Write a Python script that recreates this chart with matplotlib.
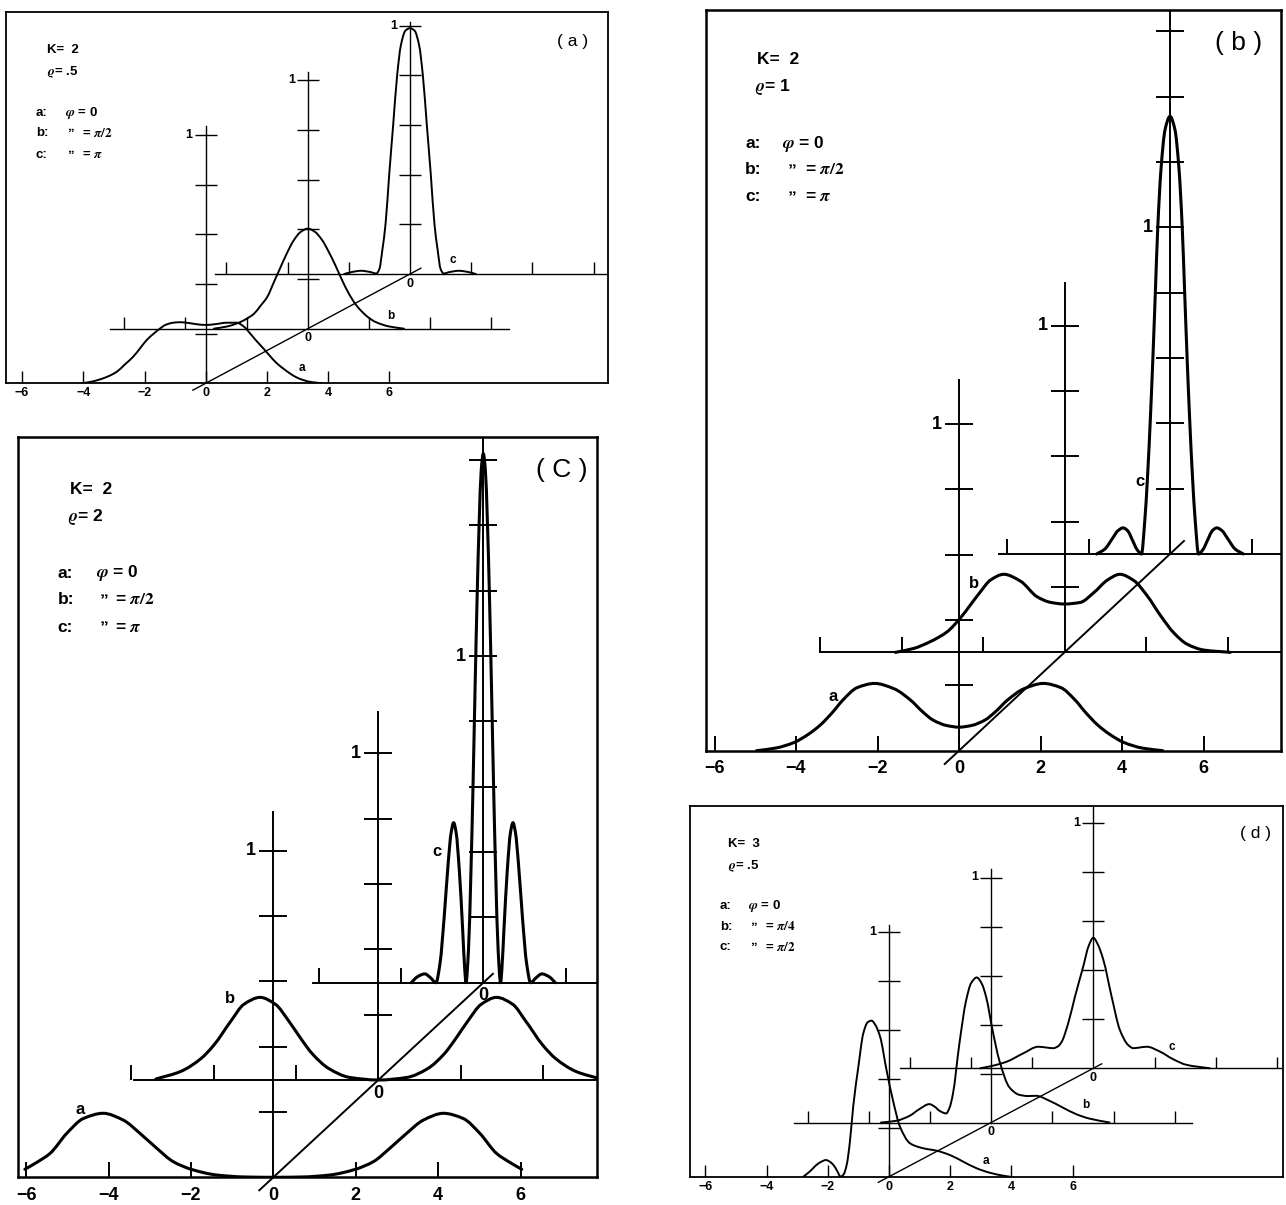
import numpy as np
import matplotlib
matplotlib.use("Agg")
import matplotlib.pyplot as plt
from matplotlib.path import Path
from matplotlib.patches import PathPatch
from matplotlib.transforms import offset_copy

plt.rcParams['font.family'] = ['Liberation Sans', 'DejaVu Sans']
plt.rcParams['font.weight'] = 'bold'
plt.rcParams['mathtext.fontset'] = 'stix'

W, H = 1286, 1205

# ---- values (x in units of the axis, y = intensity) ----
# panel (a): K=2, rho=.5
pa_ax = [-4.05, -3.75, -3.45, -3.15, -2.9, -2.65, -2.37, -2.15, -1.93, -1.7, -1.5, -1.3, -1.06, -0.85,
         -0.62, -0.3, 0.0, 0.3, 0.69, 1.01, 1.25, 1.45, 1.65, 1.88, 2.1, 2.32, 2.55, 2.75, 2.95, 3.19,
         3.45, 3.84]
pa_ay = [0.0, 0.006, 0.016, 0.03, 0.047, 0.075, 0.107, 0.14, 0.174, 0.2, 0.22, 0.236, 0.244, 0.246,
         0.244, 0.238, 0.235, 0.238, 0.244, 0.244, 0.228, 0.201, 0.172, 0.141, 0.11, 0.081, 0.058, 0.04,
         0.025, 0.013, 0.005, 0.0]
pa_bx = [-3.07, -2.63, -2.2, -2.0, -1.76, -1.56, -1.33, -1.1, -0.89, -0.68, -0.46, -0.23, 0.0, 0.23,
         0.47, 0.68, 0.9, 1.12, 1.34, 1.56, 1.78, 2.0, 2.21, 2.65, 3.14]
pa_by = [0.0, 0.009, 0.027, 0.04, 0.06, 0.09, 0.127, 0.19, 0.248, 0.305, 0.356, 0.39, 0.403, 0.39,
         0.356, 0.31, 0.255, 0.195, 0.141, 0.098, 0.067, 0.043, 0.027, 0.009, 0.0]
pa_cx = [-2.15, -1.9, -1.6, -1.3, -1.1, -1.0, -0.9, -0.8, -0.68, -0.55, -0.42, -0.3, -0.15, 0.0,
         0.15, 0.3, 0.42, 0.55, 0.68, 0.8, 0.9, 1.0, 1.1, 1.3, 1.6, 1.9, 2.15]
pa_cy = [0.0, 0.008, 0.013, 0.008, 0.002, 0.02, 0.1, 0.2, 0.4, 0.6, 0.8, 0.92, 0.98, 0.99,
         0.98, 0.92, 0.8, 0.6, 0.4, 0.2, 0.1, 0.02, 0.002, 0.008, 0.013, 0.008, 0.0]

# panel (b): K=2, rho=1
pb_ax = [-4.97, -4.5, -4.05, -3.7, -3.4, -3.1, -2.85, -2.5, -2.07, -1.6, -1.19, -0.9, -0.64, -0.3,
         0.0, 0.3, 0.64, 0.9, 1.19, 1.6, 2.07, 2.5, 2.85, 3.1, 3.4, 3.7, 4.05, 4.5, 5.0]
pb_ay = [0.0, 0.008, 0.025, 0.05, 0.079, 0.118, 0.155, 0.193, 0.206, 0.19, 0.155, 0.12, 0.094, 0.077,
         0.072, 0.077, 0.094, 0.12, 0.155, 0.19, 0.206, 0.193, 0.155, 0.118, 0.079, 0.05, 0.025, 0.008, 0.0]
pb_bx = [-4.15, -3.7, -3.29, -2.88, -2.55, -2.31, -2.06, -1.82, -1.49, -1.08, -0.67, -0.34, 0.0,
         0.39, 0.72, 1.05, 1.36, 1.7, 2.03, 2.36, 2.68, 3.01, 3.42, 4.07]
pb_by = [0.0, 0.012, 0.033, 0.063, 0.106, 0.145, 0.186, 0.221, 0.239, 0.218, 0.17, 0.153, 0.148,
         0.153, 0.183, 0.221, 0.239, 0.22, 0.173, 0.112, 0.06, 0.025, 0.007, 0.0]
pb_cx = [-1.8, -1.6, -1.4, -1.28, -1.15, -1.03, -0.95, -0.8, -0.7, -0.62, -0.55, -0.48, -0.42, -0.36,
         -0.3, -0.22, -0.12, 0.0, 0.12, 0.22, 0.3, 0.36, 0.42, 0.48, 0.55, 0.62, 0.7, 0.8, 0.95, 1.03,
         1.15, 1.28, 1.4, 1.6, 1.8]
pb_cy = [0.0, 0.015, 0.05, 0.071, 0.08, 0.07, 0.05, 0.012, 0.0, 0.1, 0.24, 0.42, 0.6, 0.8,
         1.0, 1.18, 1.3, 1.34, 1.3, 1.18, 1.0, 0.8, 0.6, 0.42, 0.24, 0.1, 0.0, 0.012, 0.05, 0.07,
         0.08, 0.071, 0.05, 0.015, 0.0]

# panel (c): K=2, rho=2
pc_ax = [-6.03, -5.75, -5.42, -5.01, -4.61, -4.13, -3.64, -3.24, -2.83, -2.43, -1.98, -1.37, -0.7,
         0.0, 0.7, 1.37, 1.98, 2.43, 2.83, 3.24, 3.64, 4.13, 4.61, 5.01, 5.42, 5.75, 6.03]
pc_ay = [0.0245, 0.045, 0.073, 0.135, 0.18, 0.196, 0.175, 0.135, 0.089, 0.048, 0.024, 0.007, 0.001,
         0.0, 0.001, 0.007, 0.024, 0.048, 0.089, 0.135, 0.175, 0.196, 0.18, 0.135, 0.073, 0.045, 0.0245]
pc_bx = [-5.4, -4.8, -4.31, -3.99, -3.58, -3.26, -2.87, -2.5, -2.17, -1.87, -1.6, -1.2, -0.7, 0.0,
         0.7, 1.2, 1.6, 1.87, 2.17, 2.5, 2.87, 3.26, 3.58, 3.99, 4.31, 4.8, 5.4]
pc_by = [0.003, 0.026, 0.065, 0.107, 0.18, 0.232, 0.253, 0.232, 0.18, 0.125, 0.08, 0.035, 0.008, 0.0,
         0.008, 0.035, 0.08, 0.125, 0.18, 0.232, 0.253, 0.232, 0.18, 0.107, 0.065, 0.026, 0.003]
pc_cx = [-1.75, -1.6, -1.42, -1.28, -1.15, -1.05, -0.95, -0.85, -0.78, -0.72, -0.66, -0.58, -0.5,
         -0.45, -0.42, -0.36, -0.3, -0.25, -0.2, -0.15, -0.1, -0.05, 0.0, 0.05, 0.1, 0.15, 0.2, 0.25,
         0.3, 0.36, 0.42, 0.45, 0.5, 0.58, 0.66, 0.72, 0.78, 0.85, 0.95, 1.05, 1.15, 1.28, 1.42, 1.6, 1.75]
pc_cy = [0.0, 0.018, 0.027, 0.015, 0.0, 0.06, 0.2, 0.37, 0.46, 0.49, 0.46, 0.34, 0.16,
         0.04, 0.0, 0.1, 0.34, 0.6, 0.9, 1.18, 1.41, 1.57, 1.62, 1.57, 1.41, 1.18, 0.9, 0.6,
         0.34, 0.1, 0.0, 0.04, 0.16, 0.34, 0.46, 0.49, 0.46, 0.37, 0.2, 0.06, 0.0, 0.015, 0.027, 0.018, 0.0]

# panel (d): K=3, rho=.5
pd_ax = [-2.8, -2.6, -2.35, -2.2, -2.06, -1.92, -1.8, -1.7, -1.58, -1.48, -1.38, -1.28, -1.17, -1.0,
         -0.84, -0.7, -0.57, -0.45, -0.29, -0.08, 0.14, 0.36, 0.69, 1.12, 1.56, 2.0, 2.43, 2.87, 3.3,
         3.74, 3.95]
pd_ay = [0.0, 0.02, 0.05, 0.062, 0.068, 0.06, 0.045, 0.025, 0.0, 0.01, 0.05, 0.14, 0.286, 0.45,
         0.585, 0.63, 0.637, 0.62, 0.571, 0.435, 0.306, 0.204, 0.136, 0.116, 0.106, 0.088, 0.061, 0.034,
         0.016, 0.004, 0.0]
pd_bx = [-3.6, -3.1, -2.67, -2.34, -2.02, -1.85, -1.69, -1.47, -1.36, -1.25, -1.04, -0.82, -0.65,
         -0.47, -0.3, -0.16, 0.05, 0.27, 0.6, 0.92, 1.2, 1.47, 1.9, 2.34, 2.78, 3.21, 3.87]
pd_by = [0.0, 0.007, 0.027, 0.055, 0.075, 0.065, 0.048, 0.037, 0.06, 0.116, 0.32, 0.497, 0.57,
         0.592, 0.565, 0.51, 0.374, 0.252, 0.143, 0.113, 0.108, 0.109, 0.089, 0.061, 0.034, 0.016, 0.0]
pd_cx = [-3.7, -3.3, -2.83, -2.29, -1.8, -1.55, -1.31, -1.15, -1.03, -0.82, -0.6, -0.33, -0.15, 0.0,
         0.15, 0.33, 0.6, 0.87, 1.14, 1.31, 1.52, 1.75, 2.18, 2.61, 3.05, 3.81]
pd_cy = [0.0, 0.01, 0.027, 0.061, 0.088, 0.085, 0.082, 0.09, 0.109, 0.184, 0.292, 0.415, 0.5, 0.533,
         0.505, 0.442, 0.292, 0.156, 0.095, 0.082, 0.085, 0.088, 0.068, 0.037, 0.014, 0.0]

front_ticks = [-6, -4, -2, 0, 2, 4, 6]

# ---- layout of the four boxes (pixels) ----
small = dict(tick_len=11.7, tick_half=11, lw_curve=1.4, lw_axis=1.0, frame_lw=1.3, fs=9, pad=3,
             one_gap=2, zero_off=9.5, fs_leg=9.5, fs_lab=12.5, fs_cur=8.5)
big = dict(tick_len=15, tick_half=14, lw_curve=2.2, lw_axis=1.4, frame_lw=1.8, fs=13, pad=7,
           one_gap=3, zero_off=13, fs_leg=12.5, fs_lab=19, fs_cur=12)

PANELS = {
    'a': dict(small, frame=(6, 11.7, 608, 383.3), x0=205.7, sx=30.6, sy=248.3, dx=102.15, dy=54.65,
              axis_top=[1.035, 1.033, 1.016], vtick_max=[1.0, 1.0, 1.0],
              base_start=[None, -6.47, -6.37], base_end=[None, 6.56, None],
              base_ticks=[None, [-6, -4, -2, 2, 4, 6], [-6, -4, -2, 2, 4, 6]],
              diag=(-0.42, 7.03), zeros=True,
              curves=[(pa_ax, pa_ay), (pa_bx, pa_by), (pa_cx, pa_cy)],
              labels=[(301.7, 368.3), (390.7, 316), (453.3, 260)],
              tag='( a )', tag_xy=(573, 41.7), K='2', rho='.5', phis=[r'$\pi/2$', r'$\pi$'],
              k_xy=(47, 50), r_xy=(47, 71.7), lx=36, ly=[113.3, 133.3, 155], symx=65, dittox=67, eqx=81.7),
    'b': dict(big, frame=(705.6, 10, 1281, 750.7), x0=959, sx=40.75, sy=326.6, dx=105.5, dy=98.35,
              axis_top=[1.135, 1.13, None], vtick_max=[1.0, 1.0, 1.6],
              base_start=[None, -6.0, -4.2], base_end=[None, None, None],
              base_ticks=[None, [-6, -4, -2, 2, 4], [-4, -2, 2]],
              diag=(-0.35, 5.52), zeros=False,
              curves=[(pb_ax, pb_ay), (pb_bx, pb_by), (pb_cx, pb_cy)],
              labels=[(833.5, 696.7), (974.3, 583.3), (1140, 481.7)],
              tag='( b )', tag_xy=(1238.5, 43.3), K='2', rho='1', phis=[r'$\pi/2$', r'$\pi$'],
              k_xy=(757, 59.3), r_xy=(755, 87.3), lx=745, ly=[144, 170, 196.7], symx=782.4, dittox=788, eqx=805),
    'c': dict(big, frame=(18.3, 437.3, 596.5, 1177.3), x0=273.3, sx=41.2, sy=326.6, dx=105, dy=97.3,
              axis_top=[1.118, 1.126, None], vtick_max=[1.0, 1.0, 1.6],
              base_start=[None, -5.94, -4.14], base_end=[None, None, None],
              base_ticks=[None, [-6, -4, -2, 2, 4], [-4, -2, 2]],
              diag=(-0.34, 5.33), zeros=True,
              curves=[(pc_ax, pc_ay), (pc_bx, pc_by), (pc_cx, pc_cy)],
              labels=[(80, 1109.3), (230, 998.3), (436.7, 851.7)],
              tag='( C )', tag_xy=(561.5, 470), K='2', rho='2', phis=[r'$\pi/2$', r'$\pi$'],
              k_xy=(70.3, 489.3), r_xy=(68.4, 517.3), lx=57.8, ly=[573.3, 600, 627.3], symx=95.7, dittox=99.6, eqx=115.2),
    'd': dict(small, frame=(690, 806, 1283, 1176.7), x0=889, sx=30.6, sy=245, dx=102.15, dy=54.2,
              axis_top=[1.027, 1.034, None], vtick_max=[1.0, 1.0, 1.0],
              base_start=[None, -6.45, -6.33], base_end=[None, 6.55, None],
              base_ticks=[None, [-6, -4, -2, 2, 4, 6], [-6, -4, -2, 2, 4, 6]],
              diag=(-0.35, 6.95), zeros=True,
              curves=[(pd_ax, pd_ay), (pd_bx, pd_by), (pd_cx, pd_cy)],
              labels=[(986, 1160.7), (1086, 1105), (1171.7, 1046.7)],
              tag='( d )', tag_xy=(1256, 833.3), K='3', rho='.5', phis=[r'$\pi/4$', r'$\pi/2$'],
              k_xy=(728.3, 844.3), r_xy=(728.3, 866), lx=720, ly=[906, 926.7, 947.3], symx=748.3, dittox=750, eqx=765),
}

fig = plt.figure(figsize=(W / 100, H / 100), dpi=100)


def put(x, y, s, **kw):
    return fig.text(x / W, 1 - y / H, s, **kw)


def smooth_path(x, y):
    # cubic Bezier through the read points, monotone (pchip-like) slopes so nothing overshoots
    x = np.asarray(x, float)
    y = np.asarray(y, float)
    h = np.diff(x)
    d = np.diff(y) / h
    m = np.zeros_like(x)
    m[0], m[-1] = d[0], d[-1]
    for k in range(1, len(x) - 1):
        if d[k - 1] * d[k] > 0:
            w1 = 2 * h[k] + h[k - 1]
            w2 = h[k] + 2 * h[k - 1]
            m[k] = (w1 + w2) / (w1 / d[k - 1] + w2 / d[k])
    verts = [(x[0], y[0])]
    codes = [Path.MOVETO]
    for k in range(len(x) - 1):
        verts += [(x[k] + h[k] / 3, y[k] + m[k] * h[k] / 3),
                  (x[k + 1] - h[k] / 3, y[k + 1] - m[k + 1] * h[k] / 3),
                  (x[k + 1], y[k + 1])]
        codes += [Path.CURVE4] * 3
    return Path(verts, codes)


def draw_panel(p):
    L, T, R, B = p['frame']
    sx, sy = p['sx'], p['sy']
    ax = fig.add_axes([L / W, 1 - B / H, (R - L) / W, (B - T) / H])
    xmin, xmax = (L - p['x0']) / sx, (R - p['x0']) / sx
    ymax = (B - T) / sy
    ax.set_xlim(xmin, xmax)
    ax.set_ylim(0, ymax)
    for sp in ax.spines.values():
        sp.set_linewidth(p['frame_lw'])
    ax.set_yticks([])
    ax.set_xticks(front_ticks, [str(t).replace('-', '\u2212') for t in front_ticks])
    ax.tick_params(axis='x', direction='in', length=p['tick_len'] * 0.72,
                   width=p['lw_axis'], labelsize=p['fs'], pad=p['pad'])

    dx, dy = p['dx'] / sx, p['dy'] / sy
    tl = p['tick_len'] / sy
    th = p['tick_half'] / sx
    k = dict(color='black', lw=p['lw_axis'])
    for i, (cx, cy) in enumerate(p['curves']):
        ox, oy = i * dx, i * dy
        if i > 0:
            end = p['base_end'][i]
            x_end = xmax if end is None else end + ox
            ax.plot([p['base_start'][i] + ox, x_end], [oy, oy], **k)
            ax.vlines(np.array(p['base_ticks'][i]) + ox, oy, oy + tl, **k)
            if p['zeros']:
                ax.text(ox, oy - p['zero_off'] / sy, '0', ha='center', va='center', fontsize=p['fs'])
        top = p['axis_top'][i]
        top = ymax if top is None else top + oy
        ax.plot([ox, ox], [oy, top], **k)
        yt = np.arange(1, int(round(p['vtick_max'][i] / 0.2)) + 1) * 0.2
        ax.hlines(yt + oy, ox - th, ox + th, **k)
        ax.text(ox - th - p['one_gap'] / sx, 1 + oy, '1', ha='right', va='center', fontsize=p['fs'])
        path = smooth_path(np.array(cx) + ox, np.array(cy) + oy)
        ax.add_patch(PathPatch(path, fill=False, edgecolor='black', lw=p['lw_curve'],
                               joinstyle='round', capstyle='round'))
    d0, d1 = p['diag']
    ax.plot([d0, d1], [d0 * dy / dx, d1 * dy / dx], clip_on=False, **k)

    # curve letters, legend block and panel tag
    for (x, y), s in zip(p['labels'], 'abc'):
        put(x, y, s, ha='center', va='center', fontsize=p['fs_cur'])
    fs = p['fs_leg']
    put(*p['k_xy'], 'K=  ' + p['K'], ha='left', va='center', fontsize=fs)
    put(*p['r_xy'], r'$\varrho$= ' + p['rho'], ha='left', va='center', fontsize=fs)
    put(p['lx'], p['ly'][0], 'a:', ha='left', va='center', fontsize=fs)
    put(p['symx'], p['ly'][0], r'$\varphi$ = 0', ha='left', va='center', fontsize=fs)
    for y, s, phi in zip(p['ly'][1:], 'bc', p['phis']):
        put(p['lx'], y, s + ':', ha='left', va='center', fontsize=fs)
        t = put(p['dittox'], y, '\u201e', ha='left', va='center', fontsize=fs)
        t.set_transform(offset_copy(t.get_transform(), fig=fig, y=fs * 0.45, units='points'))
        put(p['eqx'], y, '= ' + phi, ha='left', va='center', fontsize=fs)
    put(*p['tag_xy'], p['tag'], ha='center', va='center', fontsize=p['fs_lab'], fontweight='normal')
    return ax


for key in 'abcd':
    draw_panel(PANELS[key])

fig.savefig('out.png', dpi=100)
